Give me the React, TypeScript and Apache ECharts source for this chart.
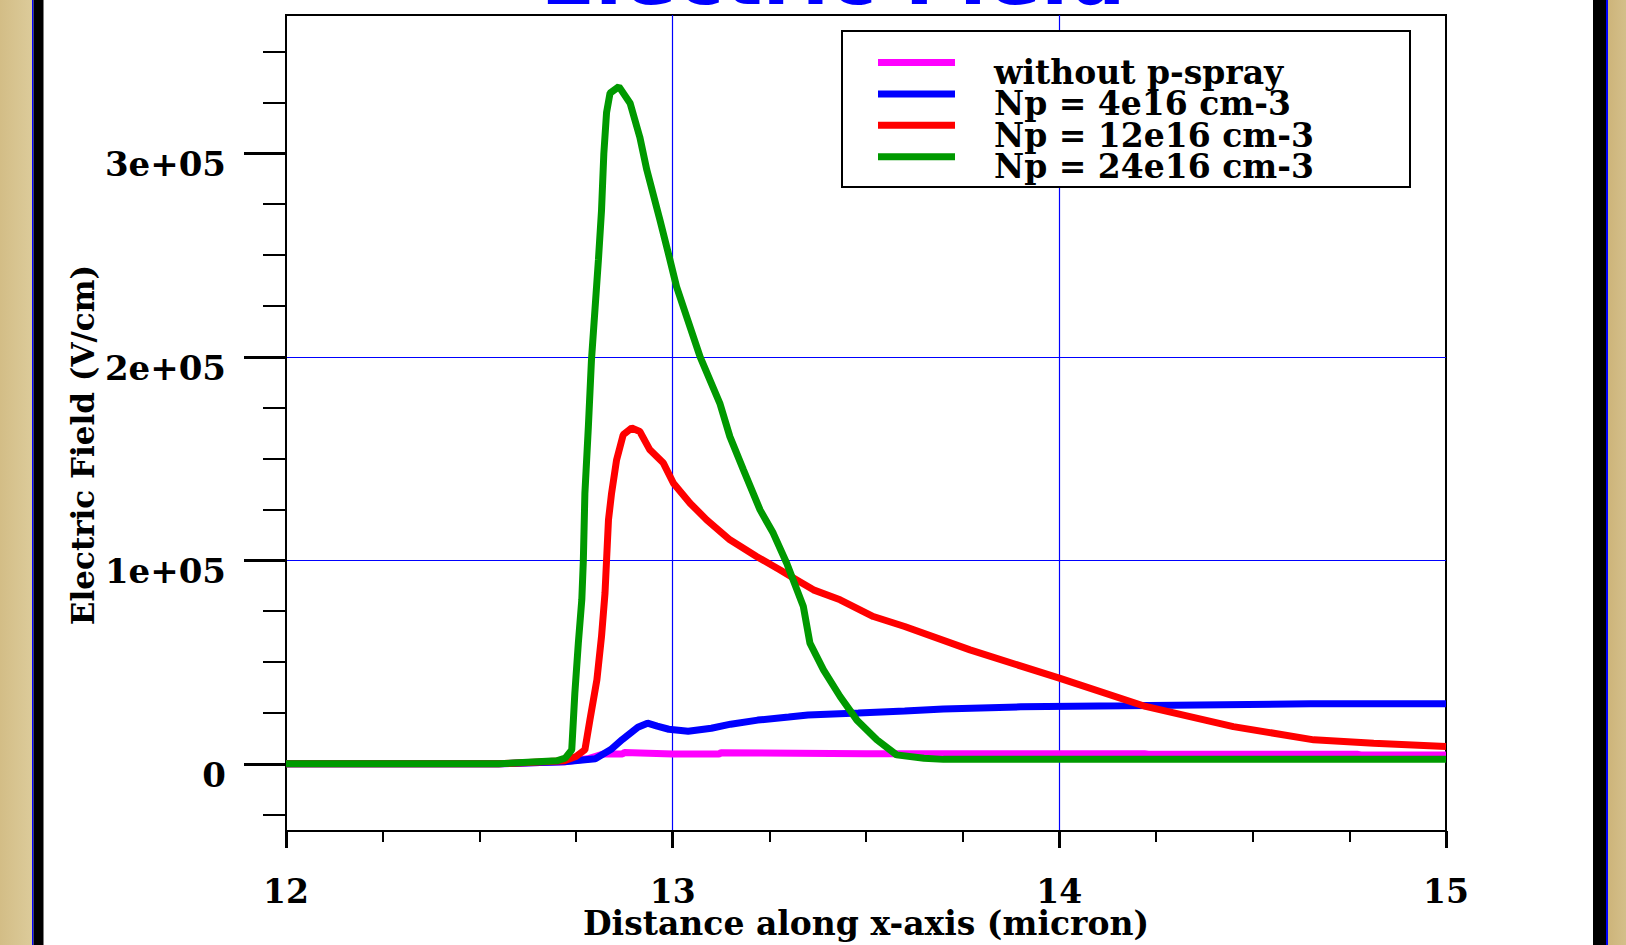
import React, { useEffect, useRef } from 'react';
import * as echarts from 'echarts';

// ---------- data ----------
const seriesNames = ['without p-spray', 'Np = 4e16 cm-3', 'Np = 12e16 cm-3', 'Np = 24e16 cm-3'];
const seriesColors = ['#ff00ff', '#0000ff', '#ff0000', '#009900'];

const noSprayX = [12, 12.55, 12.72, 12.78, 12.82, 12.87, 12.875, 13.0, 13.12, 13.125, 13.5, 14.0, 14.22, 14.23, 14.77, 14.78, 15];
const noSprayY = [0, 0, 1000, 2500, 4800, 4800, 5600, 4800, 4800, 5500, 5000, 5000, 5000, 4700, 4700, 4400, 4400];

const np4X = [12, 12.55, 12.72, 12.8, 12.84, 12.87, 12.91, 12.935, 12.96, 12.99, 13.04, 13.1, 13.15, 13.22, 13.3, 13.35, 13.48, 13.6, 13.7, 13.9, 14.17, 14.65, 15];
const np4Y = [0, 0, 1000, 2500, 7000, 12000, 18000, 20000, 18500, 17000, 16000, 17500, 19500, 21500, 23000, 24000, 25000, 26000, 27000, 28000, 28500, 29500, 29500];

const np12X = [12, 12.55, 12.72, 12.75, 12.773, 12.786, 12.804, 12.816, 12.825, 12.829, 12.834, 12.842, 12.855, 12.872, 12.894, 12.915, 12.941, 12.976, 13.002, 13.045, 13.088, 13.148, 13.217, 13.278, 13.321, 13.364, 13.433, 13.519, 13.6, 13.769, 14.0, 14.223, 14.45, 14.658, 14.813, 15.0];
const np12Y = [0, 0, 1500, 3600, 6900, 21600, 41300, 62600, 83900, 100000, 119900, 133000, 149400, 161700, 165000, 163300, 154300, 147800, 137900, 128100, 119900, 110100, 101900, 95300, 90400, 85500, 80600, 72400, 67500, 56000, 42100, 28200, 18300, 11800, 10100, 8500];

const np24X = [12, 12.55, 12.7, 12.722, 12.739, 12.747, 12.756, 12.765, 12.769, 12.773, 12.782, 12.79, 12.808, 12.816, 12.822, 12.829, 12.838, 12.861, 12.89, 12.915, 12.933, 12.967, 12.993, 13.01, 13.036, 13.071, 13.122, 13.148, 13.183, 13.226, 13.26, 13.295, 13.338, 13.355, 13.39, 13.433, 13.476, 13.528, 13.579, 13.65, 13.7, 15];
const np24Y = [0, 0, 1500, 2800, 6900, 34700, 59300, 80600, 100000, 133000, 165800, 198500, 247700, 272000, 300000, 320000, 329600, 332800, 324600, 308000, 292000, 267300, 247700, 234500, 219800, 200000, 177200, 160800, 144500, 124800, 113400, 98600, 77300, 59300, 46200, 33100, 21600, 11800, 4400, 2800, 2200, 2200];

const xTickLabels = ['12', '13', '14', '15'];
const yMajorTicks = [0, 100000, 200000, 300000];
const yTickLabels = ['0', '1e+05', '2e+05', '3e+05'];
const yMinorTicks = [-25000, 25000, 50000, 75000, 125000, 150000, 175000, 225000, 250000, 275000, 325000, 350000];

const titleText = 'Electric Field';
const xName = 'Distance along x-axis (micron)';
const yName = 'Electric Field (V/cm)';

// ---------- helpers ----------
const zip = (xs: number[], ys: number[]) => xs.map((x, i) => [x, ys[i]]);
const FONT = "'DejaVu Serif', serif";
// legend swatch: a 77x7 bar at the top of a 77x27 box (text sits lower, as in the reference)
const LEGEND_ICON = 'path://M0,0L77,0L77,7L0,7Z M0,27L0.5,27L0,27Z';

export default function App() {
  const ref = useRef<HTMLDivElement>(null);

  useEffect(() => {
    if (!ref.current) return;
    const chart = echarts.init(ref.current, undefined, { renderer: 'svg' });

    const seriesData = [zip(noSprayX, noSprayY), zip(np4X, np4Y), zip(np12X, np12Y), zip(np24X, np24Y)];

    const yMin = -33000;
    const yMax = 368000;

    const option: any = {
      animation: false,
      backgroundColor: '#ffffff',
      grid: {
        left: 286, top: 15, right: 180, bottom: 114,
        containLabel: false, outerBoundsMode: 'none',
        show: true, borderColor: '#000', borderWidth: 2, backgroundColor: 'transparent',
      },
      xAxis: {
        type: 'value', min: 12, max: 15, interval: 1,
        name: xName, nameLocation: 'middle', nameGap: 77, nameMoveOverlap: false,
        nameTextStyle: { fontFamily: FONT, fontSize: 33, fontWeight: 'bold', color: '#000', lineHeight: 31 },
        axisLine: { show: true, onZero: false, lineStyle: { color: '#000', width: 2 } },
        axisTick: { show: true, length: 17, lineStyle: { color: '#000', width: 3 } },
        minorTick: { show: true, splitNumber: 4, length: 11, lineStyle: { color: '#000', width: 2 } },
        splitLine: { show: true, showMinLine: false, showMaxLine: false, lineStyle: { color: '#0000ff', width: 1.2 } },
        axisLabel: {
          margin: 46, fontFamily: FONT, fontSize: 33, fontWeight: 'bold', color: '#000', lineHeight: 28,
          formatter: (v: number) => { const i = Math.round(v) - 12; return xTickLabels[i] ?? ''; },
        },
      },
      yAxis: [
        {
          type: 'value', min: yMin, max: yMax, splitNumber: 4,
          name: yName, nameLocation: 'middle', nameGap: 188, nameMoveOverlap: false,
          nameTextStyle: { fontFamily: FONT, fontSize: 31, fontWeight: 'bold', color: '#000', lineHeight: 31, padding: [0, 44, 0, 0] },
          axisLine: { show: true, onZero: false, lineStyle: { color: '#000', width: 2 } },
          axisTick: { show: true, length: 42, customValues: yMajorTicks, lineStyle: { color: '#000', width: 3 } },
          splitLine: { show: true, showMinLine: false, showMaxLine: false, lineStyle: { color: '#0000ff', width: 1.2 } },
          axisLabel: {
            margin: 60, customValues: yMajorTicks, fontFamily: FONT, fontSize: 34, fontWeight: 'bold', color: '#000',
            lineHeight: 22, verticalAlign: 'top',
            formatter: (v: number) => { const i = yMajorTicks.indexOf(v); return i >= 0 ? yTickLabels[i] : ''; },
          },
        },
        {
          type: 'value', min: yMin, max: yMax, position: 'left',
          axisLine: { show: false },
          axisTick: { show: true, length: 23, customValues: yMinorTicks, lineStyle: { color: '#000', width: 2 } },
          axisLabel: { show: false },
          splitLine: { show: false },
        },
      ],
      legend: {
        data: seriesNames, orient: 'vertical', left: 878, top: 56, padding: 0,
        itemWidth: 77, itemHeight: 27, itemGap: -1.6, icon: LEGEND_ICON, selectedMode: false,
        textStyle: { fontFamily: FONT, fontSize: 33, fontWeight: 'bold', color: '#000', lineHeight: 31, padding: [0, 0, 0, 34] },
        z: 10,
      },
      series: seriesNames.map((name, i) => ({
        name, type: 'line', data: seriesData[i], showSymbol: false, symbol: 'none',
        color: seriesColors[i],
        lineStyle: { color: seriesColors[i], width: 7 },
        itemStyle: { color: seriesColors[i] },
        z: 2 + i * 0.1,
        clip: true,
      })),
      graphic: [
        // left frame
        { type: 'rect', shape: { x: 0, y: 0, width: 32, height: 945 }, style: { fill: new echarts.graphic.LinearGradient(0, 0, 1, 0, [{ offset: 0, color: '#d3bd86' }, { offset: 1, color: '#dccb9a' }]) }, z: 1 },
        { type: 'rect', shape: { x: 32, y: 0, width: 1.5, height: 945 }, style: { fill: '#0000ff' }, z: 1 },
        { type: 'rect', shape: { x: 33.5, y: 0, width: 10, height: 945 }, style: { fill: '#000' }, z: 1 },
        // right frame
        { type: 'rect', shape: { x: 1593, y: 0, width: 13, height: 945 }, style: { fill: '#000' }, z: 1 },
        { type: 'rect', shape: { x: 1606, y: 0, width: 2, height: 945 }, style: { fill: '#0000ff' }, z: 1 },
        { type: 'rect', shape: { x: 1608, y: 0, width: 18, height: 945 }, style: { fill: new echarts.graphic.LinearGradient(0, 0, 1, 0, [{ offset: 0, color: '#cdb47a' }, { offset: 1, color: '#d4bf8a' }]) }, z: 1 },
        // title (mostly cut off at top)
        { type: 'text', x: 833, y: 16, style: { text: titleText, fill: '#0000ff', fontSize: 80, fontWeight: 'bold', fontFamily: 'DejaVu Sans', align: 'center', verticalAlign: 'bottom' }, z: 1 },
        // legend box
        { type: 'rect', shape: { x: 842, y: 31, width: 568, height: 156 }, style: { fill: '#ffffff', stroke: '#000', lineWidth: 2 }, z: 5 },
      ],
    };

    chart.setOption(option);
    return () => chart.dispose();
  }, []);

  return <div ref={ref} style={{ position: 'fixed', left: 0, top: 0, width: 1626, height: 945 }} />;
}
